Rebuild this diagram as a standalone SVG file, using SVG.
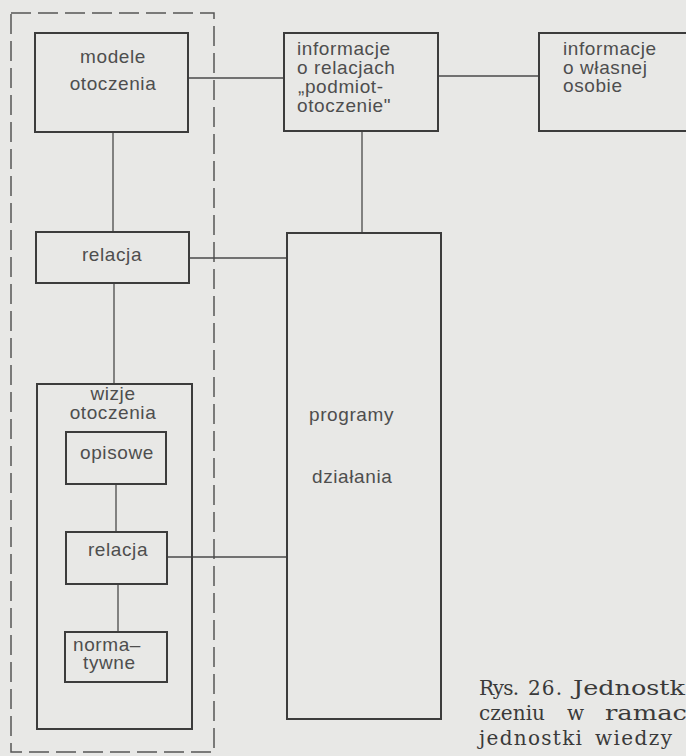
<svg xmlns="http://www.w3.org/2000/svg" width="686" height="756" viewBox="0 0 686 756">
  <style>
    .box { fill: none; stroke: #3c3c3c; stroke-width: 2; }
    .frame { fill: none; stroke: #555; stroke-width: 1.5; stroke-dasharray: 20 7; }
    .link { fill: none; stroke: #4a4a4a; stroke-width: 1.3; }
    .lbl { font-family: "Liberation Sans", Arial, sans-serif; font-size: 19px; letter-spacing: 0.6px; fill: #4e4e4e; }
    .mid { text-anchor: middle; }
    .cap { font-family: "DejaVu Serif", serif; font-size: 20px; fill: #3a3a3a; }
  </style>

  <rect width="686" height="756" fill="#e8e8e6"/>

  <!-- dashed frame around the environment models -->
  <g id="frame">
    <rect class="frame" x="11" y="13" width="203" height="739"/>
  </g>

  <!-- connectors -->
  <g id="connectors">
    <line class="link" x1="188" y1="78" x2="284" y2="78"/>
    <line class="link" x1="438" y1="76" x2="539" y2="76"/>
    <line class="link" x1="362" y1="131" x2="362" y2="233"/>
    <line class="link" x1="113" y1="132" x2="113" y2="232"/>
    <line class="link" x1="189" y1="258" x2="287" y2="258"/>
    <line class="link" x1="114" y1="283" x2="114" y2="384"/>
    <line class="link" x1="116" y1="484" x2="116" y2="532"/>
    <line class="link" x1="167" y1="557" x2="288" y2="557"/>
    <line class="link" x1="118" y1="584" x2="118" y2="632"/>
  </g>

  <g id="modele">
    <rect class="box" x="35" y="33" width="153" height="99"/>
    <text class="lbl mid" x="113" y="63">modele</text>
    <text class="lbl mid" x="113" y="90">otoczenia</text>
  </g>

  <g id="informacje-relacje">
    <rect class="box" x="284" y="33" width="154" height="98"/>
    <text class="lbl" x="297" y="55">informacje</text>
    <text class="lbl" x="297" y="74">o relacjach</text>
    <text class="lbl" x="298" y="93">„podmiot-</text>
    <text class="lbl" x="297" y="112">otoczenie"</text>
  </g>

  <g id="informacje-osoba">
    <rect class="box" x="539" y="33" width="160" height="98"/>
    <text class="lbl" x="563" y="55">informacje</text>
    <text class="lbl" x="563" y="74">o własnej</text>
    <text class="lbl" x="563" y="92">osobie</text>
  </g>

  <g id="relacja-1">
    <rect class="box" x="36" y="232" width="153" height="51"/>
    <text class="lbl mid" x="112" y="261">relacja</text>
  </g>

  <g id="programy">
    <rect class="box" x="287" y="233" width="154" height="486"/>
    <text class="lbl" x="309" y="421">programy</text>
    <text class="lbl" x="312" y="483">działania</text>
  </g>

  <g id="wizje">
    <rect class="box" x="37" y="384" width="155" height="345"/>
    <text class="lbl mid" x="113" y="400">wizje</text>
    <text class="lbl mid" x="113" y="419">otoczenia</text>
  </g>

  <g id="opisowe">
    <rect class="box" x="66" y="432" width="100" height="52"/>
    <text class="lbl mid" x="117" y="459">opisowe</text>
  </g>

  <g id="relacja-2">
    <rect class="box" x="66" y="532" width="101" height="52"/>
    <text class="lbl mid" x="118" y="556">relacja</text>
  </g>

  <g id="normatywne">
    <rect class="box" x="65" y="632" width="102" height="50"/>
    <text class="lbl" x="73" y="651">norma–</text>
    <text class="lbl" x="83" y="669">tywne</text>
  </g>

  <!-- figure caption, running past the right edge -->
  <g id="caption">
    <text class="cap" x="479" y="695" textLength="40" lengthAdjust="spacing">Rys.</text>
    <text class="cap" x="528" y="695" textLength="34" lengthAdjust="spacing">26.</text>
    <text class="cap" x="573" y="695" textLength="112" lengthAdjust="spacingAndGlyphs">Jednostk</text>
    <text class="cap" x="479" y="720" textLength="66" lengthAdjust="spacing">czeniu</text>
    <text class="cap" x="567" y="720">w</text>
    <text class="cap" x="605" y="720" textLength="82" lengthAdjust="spacingAndGlyphs">ramac</text>
    <text class="cap" x="479" y="745" textLength="103" lengthAdjust="spacing">jednostki</text>
    <text class="cap" x="595" y="745" textLength="77" lengthAdjust="spacing">wiedzy</text>
  </g>
</svg>
